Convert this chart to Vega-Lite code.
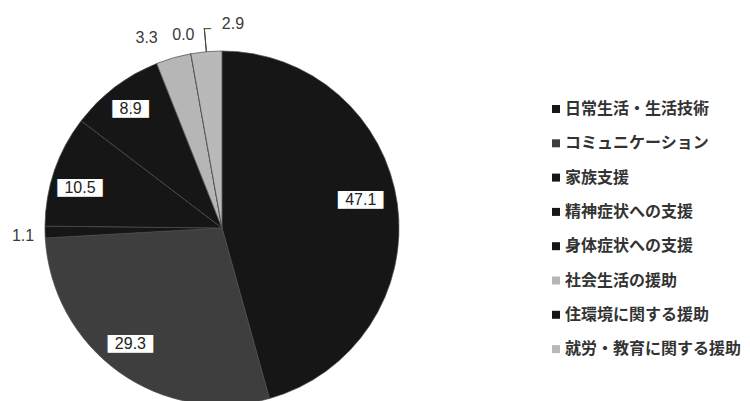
{
  "$schema": "https://vega.github.io/schema/vega-lite/v6.json",
  "width": 750,
  "height": 401,
  "autosize": {"type": "none"},
  "padding": 0,
  "background": "white",
  "config": {"view": {"stroke": null}},
  "data": {
    "values": [
      {"name": "日常生活・生活技術", "value": 47.1, "idx": 1},
      {"name": "コミュニケーション", "value": 29.3, "idx": 2},
      {"name": "家族支援", "value": 1.1, "idx": 3},
      {"name": "精神症状への支援", "value": 10.5, "idx": 4},
      {"name": "身体症状への支援", "value": 8.9, "idx": 5},
      {"name": "社会生活の援助", "value": 3.3, "idx": 6},
      {"name": "住環境に関する援助", "value": 0.0, "idx": 7},
      {"name": "就労・教育に関する援助", "value": 2.9, "idx": 8}
    ]
  },
  "encoding": {
    "theta": {"field": "value", "type": "quantitative", "stack": true},
    "order": {"field": "idx", "type": "quantitative"}
  },
  "layer": [
    {
      "mark": {"type": "arc", "outerRadius": 177, "x": 222, "y": 228, "stroke": "#4a4a4a", "strokeWidth": 0.7},
      "encoding": {
        "color": {
          "field": "name", "type": "nominal",
          "scale": {
            "domain": ["日常生活・生活技術", "コミュニケーション", "家族支援", "精神症状への支援", "身体症状への支援", "社会生活の援助", "住環境に関する援助", "就労・教育に関する援助"],
            "range": ["#161616", "#3e3e3e", "#161616", "#161616", "#161616", "#b6b6b6", "#161616", "#b9b9b9"]
          },
          "legend": {
            "title": null, "orient": "none", "legendX": 548, "legendY": 101,
            "symbolType": "square", "symbolSize": 64, "symbolStrokeWidth": 0,
            "labelFont": "Noto Sans CJK JP", "labelFontSize": 16, "labelFontWeight": "bold",
            "labelColor": "#333333", "labelOffset": 1, "rowPadding": 18.3, "labelLimit": 300
          }
        }
      }
    },
    {
      "mark": {"type": "arc", "innerRadius": 177, "outerRadius": 200, "padAngle": 1, "x": 222, "y": 228, "stroke": "#444444", "strokeWidth": 1, "fillOpacity": 0},
      "encoding": {"strokeOpacity": {"condition": {"test": "datum.idx === 8", "value": 1}, "value": 0}}
    },
    {
      "mark": {"type": "text", "x": 222, "y": 228, "radius": 200, "dx": -0.5, "font": "DejaVu Sans Mono", "fontSize": 12, "color": "#444444", "baseline": "middle", "align": "left"},
      "encoding": {"text": {"condition": {"test": "datum.idx === 8", "value": "─"}, "value": ""}}
    },
    {
      "mark": {"type": "text", "x": 222, "y": 228, "radius": 142, "dx": -2, "dy": -9, "font": "DejaVu Sans Mono", "fontSize": 15, "color": "white", "baseline": "middle"},
      "encoding": {"text": {"condition": {"test": "datum.idx === 1", "value": "█████"}, "value": ""}}
    },
    {
      "mark": {"type": "text", "x": 222, "y": 228, "radius": 142, "dx": -2, "dy": -9, "font": "Liberation Sans", "fontSize": 16, "color": "#222222", "baseline": "middle"},
      "encoding": {"text": {"condition": {"test": "datum.idx === 1", "field": "value", "type": "quantitative", "format": ".1f"}, "value": ""}}
    },
    {
      "mark": {"type": "text", "x": 222, "y": 228, "radius": 147, "dx": -6, "dy": -4, "font": "DejaVu Sans Mono", "fontSize": 15, "color": "white", "baseline": "middle"},
      "encoding": {"text": {"condition": {"test": "datum.idx === 2", "value": "█████"}, "value": ""}}
    },
    {
      "mark": {"type": "text", "x": 222, "y": 228, "radius": 147, "dx": -6, "dy": -4, "font": "Liberation Sans", "fontSize": 16, "color": "#222222", "baseline": "middle"},
      "encoding": {"text": {"condition": {"test": "datum.idx === 2", "field": "value", "type": "quantitative", "format": ".1f"}, "value": ""}}
    },
    {
      "mark": {"type": "text", "x": 222, "y": 228, "radius": 147, "dx": -3, "dy": 8, "font": "DejaVu Sans Mono", "fontSize": 15, "color": "white", "baseline": "middle"},
      "encoding": {"text": {"condition": {"test": "datum.idx === 4", "value": "█████"}, "value": ""}}
    },
    {
      "mark": {"type": "text", "x": 222, "y": 228, "radius": 147, "dx": -3, "dy": 8, "font": "Liberation Sans", "fontSize": 16, "color": "#222222", "baseline": "middle"},
      "encoding": {"text": {"condition": {"test": "datum.idx === 4", "field": "value", "type": "quantitative", "format": ".1f"}, "value": ""}}
    },
    {
      "mark": {"type": "text", "x": 222, "y": 228, "radius": 147, "dx": -2.5, "dy": -1.5, "font": "DejaVu Sans Mono", "fontSize": 15, "color": "white", "baseline": "middle"},
      "encoding": {"text": {"condition": {"test": "datum.idx === 5", "value": "████"}, "value": ""}}
    },
    {
      "mark": {"type": "text", "x": 222, "y": 228, "radius": 147, "dx": -2.5, "dy": -1.5, "font": "Liberation Sans", "fontSize": 16, "color": "#222222", "baseline": "middle"},
      "encoding": {"text": {"condition": {"test": "datum.idx === 5", "field": "value", "type": "quantitative", "format": ".1f"}, "value": ""}}
    },
    {
      "mark": {"type": "text", "x": 222, "y": 228, "radius": 199, "dy": 3.5, "font": "Liberation Sans", "fontSize": 16, "color": "#3a3a3a", "baseline": "middle"},
      "encoding": {"text": {"condition": {"test": "datum.idx === 3", "field": "value", "type": "quantitative", "format": ".1f"}, "value": ""}}
    },
    {
      "mark": {"type": "text", "x": 222, "y": 228, "radius": 204, "dx": -19.5, "dy": 6, "font": "Liberation Sans", "fontSize": 16, "color": "#3a3a3a", "baseline": "middle"},
      "encoding": {"text": {"condition": {"test": "datum.idx === 6", "field": "value", "type": "quantitative", "format": ".1f"}, "value": ""}}
    },
    {
      "mark": {"type": "text", "x": 222, "y": 228, "radius": 197, "dx": -4, "dy": 1, "font": "Liberation Sans", "fontSize": 16, "color": "#3a3a3a", "baseline": "middle"},
      "encoding": {"text": {"condition": {"test": "datum.idx === 7", "field": "value", "type": "quantitative", "format": ".1f"}, "value": ""}}
    },
    {
      "mark": {"type": "text", "x": 222, "y": 228, "radius": 205, "dx": 29, "font": "Liberation Sans", "fontSize": 16, "color": "#3a3a3a", "baseline": "middle"},
      "encoding": {"text": {"condition": {"test": "datum.idx === 8", "field": "value", "type": "quantitative", "format": ".1f"}, "value": ""}}
    }
  ]
}
